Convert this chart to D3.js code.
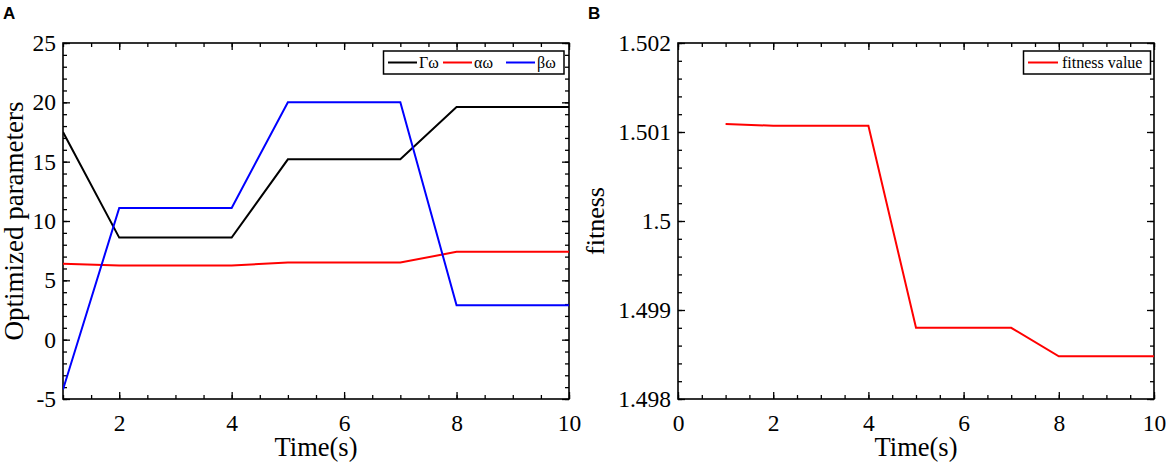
<!DOCTYPE html>
<html>
<head>
<meta charset="utf-8">
<script src="https://cdn.jsdelivr.net/npm/d3@7"></script>
<style>
  body { margin: 0; background: #fff; }
  svg { display: block; }
  .lab { font-family: "Liberation Serif", "Times New Roman", serif; font-size: 26px; fill: #000; }
  .leg { font-family: "Liberation Serif", "Times New Roman", serif; font-size: 16px; fill: #000; }
  .panel { font-family: "Liberation Sans", Arial, sans-serif; font-size: 17px; font-weight: bold; }
</style>
</head>
<body>
<div id="chart"></div>
<script>
// datos panel A
const timeA  = [1, 2, 4, 5, 7, 8, 10]
const gammaW = [17.5, 8.6, 8.6, 15.2, 15.2, 19.6, 19.6]
const alphaW = [6.4, 6.25, 6.25, 6.5, 6.5, 7.4, 7.4]
const betaW  = [-4.2, 11.1, 11.1, 20, 20, 2.9, 2.9]
const seriesNamesA = ['Γω', 'αω', 'βω']
const seriesColorsA = ['#000000', '#ff0000', '#0000ff']

// datos panel B
const timeB   = [1, 2, 4, 5, 7, 8, 10]
const fitness = [1.50109, 1.50107, 1.50107, 1.4988, 1.4988, 1.49848, 1.49848]

// ticks
const xTicksA = [2, 4, 6, 8, 10]
const yTicksA = [-5, 0, 5, 10, 15, 20, 25]
const xTicksB = [0, 2, 4, 6, 8, 10]
const yTicksB = [1.498, 1.499, 1.5, 1.501, 1.502]

const W = 1170, H = 465

const svg = d3.select('#chart').append('svg')
  .attr('width', W).attr('height', H)

// dibuja un panel con caja, ticks hacia adentro y menores
function panel(cfg) {
  const x = d3.scaleLinear().domain(cfg.xDomain).range([cfg.left, cfg.right])
  const y = d3.scaleLinear().domain(cfg.yDomain).range([cfg.bottom, cfg.top])
  const w = cfg.right - cfg.left, h = cfg.bottom - cfg.top
  const g = svg.append('g')

  const xMinor = d3.range(cfg.xDomain[0], cfg.xDomain[1] + 1e-9, 0.5)
  const yMinor = d3.range(0, Math.round((cfg.yDomain[1] - cfg.yDomain[0]) / cfg.yMinorStep) + 1)
    .map(i => cfg.yDomain[0] + i * cfg.yMinorStep)

  const axes = [
    [() => d3.axisBottom(x), `translate(0,${cfg.bottom})`, 'x', true],
    [() => d3.axisTop(x), `translate(0,${cfg.top})`, 'x', false],
    [() => d3.axisLeft(y), `translate(${cfg.left},0)`, 'y', true],
    [() => d3.axisRight(y), `translate(${cfg.right},0)`, 'y', false]
  ]
  axes.forEach(([mk, tr, dim, labels]) => {
    const major = dim === 'x' ? cfg.xTicks : cfg.yTicks
    const minor = dim === 'x' ? xMinor : yMinor
    // menores
    g.append('g').attr('transform', tr)
      .call(mk().tickValues(minor).tickSize(-4).tickSizeOuter(0).tickFormat(''))
      .call(s => s.select('.domain').remove())
      .call(s => s.selectAll('line').attr('stroke-width', 1.3))
    // mayores
    const a = mk().tickValues(major).tickSize(-7).tickSizeOuter(0)
      .tickPadding(dim === 'x' ? 15 : 7)
      .tickFormat(labels ? (dim === 'y' ? cfg.yFmt : d => d) : '')
    g.append('g').attr('transform', tr).call(a)
      .call(s => s.select('.domain').remove())
      .call(s => s.selectAll('line').attr('stroke-width', 1.3))
      .call(s => s.selectAll('text')
        .style('font-family', '"Liberation Serif", "Times New Roman", serif')
        .style('font-size', '23.5px')
        .attr('fill', '#000'))
  })

  // caja
  g.append('rect')
    .attr('x', cfg.left).attr('y', cfg.top)
    .attr('width', w).attr('height', h)
    .attr('fill', 'none').attr('stroke', '#000').attr('stroke-width', 1.6)

  return { g, x, y }
}

// ---- Panel A ----
const A = panel({
  left: 63, right: 569, top: 43, bottom: 399,
  xDomain: [1, 10], yDomain: [-5, 25],
  xTicks: xTicksA, yTicks: yTicksA, yMinorStep: 1,
  yFmt: d => String(d)
})

svg.append('clipPath').attr('id', 'clipA')
  .append('rect').attr('x', 63).attr('y', 43).attr('width', 506).attr('height', 356)

const seriesA = [gammaW, alphaW, betaW]
const lineA = d3.line().x((d, i) => A.x(timeA[i])).y(d => A.y(d))
seriesA.forEach((s, k) => {
  A.g.append('path')
    .datum(s)
    .attr('d', lineA)
    .attr('clip-path', 'url(#clipA)')
    .attr('fill', 'none')
    .attr('stroke', seriesColorsA[k])
    .attr('stroke-width', 2)
})

// leyenda A
A.g.append('rect')
  .attr('x', 383.5).attr('y', 51).attr('width', 180.5).attr('height', 23)
  .attr('fill', '#fff').attr('stroke', '#000').attr('stroke-width', 1.5)
const legX = [388, 443, 506]
seriesNamesA.forEach((n, k) => {
  A.g.append('line')
    .attr('x1', legX[k]).attr('x2', legX[k] + 29)
    .attr('y1', 62.5).attr('y2', 62.5)
    .attr('stroke', seriesColorsA[k]).attr('stroke-width', 2)
  A.g.append('text').attr('class', 'leg')
    .attr('x', legX[k] + 31).attr('y', 68)
    .text(n)
})

svg.append('text').attr('class', 'lab')
  .attr('x', 316).attr('y', 456).attr('text-anchor', 'middle')
  .style('font-size', '26.5px')
  .text('Time(s)')
svg.append('text').attr('class', 'lab')
  .attr('transform', 'translate(23,221) rotate(-90)')
  .attr('text-anchor', 'middle')
  .style('font-size', '27px')
  .text('Optimized parameters')
svg.append('text').attr('class', 'panel').attr('x', 3).attr('y', 19).text('A')

// ---- Panel B ----
const B = panel({
  left: 678, right: 1154, top: 43, bottom: 399,
  xDomain: [0, 10], yDomain: [1.498, 1.502],
  xTicks: xTicksB, yTicks: yTicksB, yMinorStep: 0.0002,
  yFmt: d => String(+d.toFixed(3))
})

const lineB = d3.line().x((d, i) => B.x(timeB[i])).y(d => B.y(d))
B.g.append('path')
  .datum(fitness)
  .attr('d', lineB)
  .attr('fill', 'none')
  .attr('stroke', '#ff0000')
  .attr('stroke-width', 2)

B.g.append('rect')
  .attr('x', 1023.5).attr('y', 51).attr('width', 127).attr('height', 23)
  .attr('fill', '#fff').attr('stroke', '#000').attr('stroke-width', 1.5)
B.g.append('line')
  .attr('x1', 1028).attr('x2', 1058).attr('y1', 62.5).attr('y2', 62.5)
  .attr('stroke', '#ff0000').attr('stroke-width', 2)
B.g.append('text').attr('class', 'leg')
  .attr('x', 1062).attr('y', 68).text('fitness value')

svg.append('text').attr('class', 'lab')
  .attr('x', 916).attr('y', 456).attr('text-anchor', 'middle')
  .style('font-size', '26.5px')
  .text('Time(s)')
svg.append('text').attr('class', 'lab')
  .attr('transform', 'translate(604,221) rotate(-90)')
  .attr('text-anchor', 'middle')
  .text('fitness')
svg.append('text').attr('class', 'panel').attr('x', 588).attr('y', 19).text('B')
</script>
</body>
</html>
